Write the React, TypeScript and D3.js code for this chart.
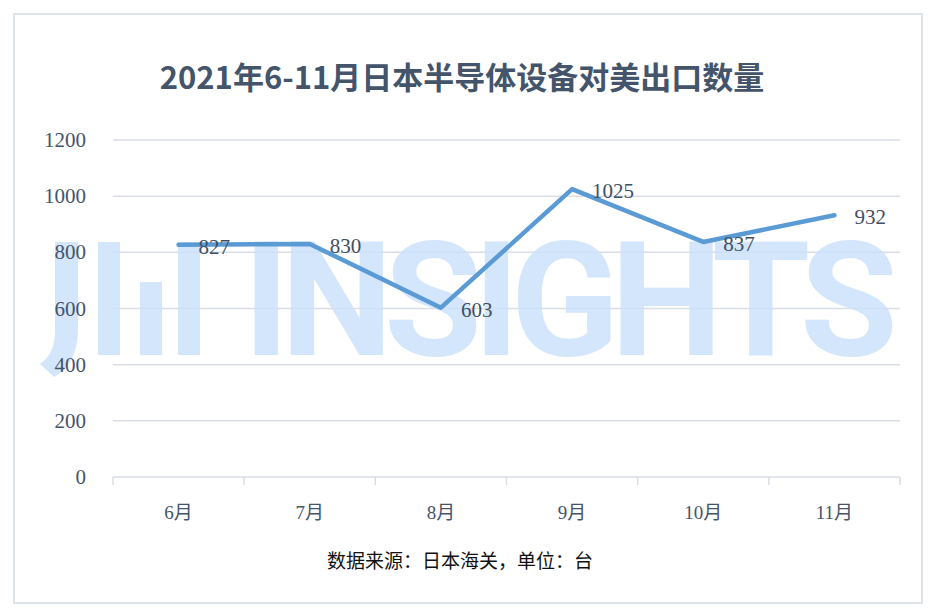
import React from 'react';
import * as d3 from 'd3';

const MONTHS = ['6月', '7月', '8月', '9月', '10月', '11月'];
const UNITS = [827, 830, 603, 1025, 837, 932];
const Y_TICKS = [0, 200, 400, 600, 800, 1000, 1200];

const TITLE = '2021年6-11月日本半导体设备对美出口数量';
const SOURCE = '数据来源：日本海关，单位：台';

const W = 938;
const H = 616;
const PLOT = { left: 113, right: 900, top: 140, bottom: 477 };

const TEXT_COLOR = '#44546a';
const GRID_COLOR = '#d9dee6';
const LINE_COLOR = '#5b9bd5';
const SERIF = '"Liberation Serif", "Noto Sans CJK SC", serif';

function Watermark() {
  // faint "JI.I INSIGHTS" logo behind the line
  const fill = '#c9e0fb';
  return (
    <g fill={fill} fillOpacity={0.8}>
      <path d="M55,242 H78 V328 C78,352 70,368 54,377 L40,364 C51,356 55,346 55,330 Z" />
      <rect x={98} y={242} width={22} height={113} />
      <rect x={140} y={282} width={22} height={73} />
      <rect x={178} y={242} width={22} height={113} />
      <text
        x={243}
        y={355}
        fontFamily="Roboto, Inter, sans-serif"
        fontWeight={700}
        fontSize={159}
        textLength={655}
        lengthAdjust="spacing"
      >
        INSIGHTS
      </text>
    </g>
  );
}

export default function App() {
  const x = d3.scaleBand<string>().domain(MONTHS).range([PLOT.left, PLOT.right]).padding(0);
  const y = d3.scaleLinear().domain([0, 1200]).range([PLOT.bottom, PLOT.top]);
  const cx = (m: string) => (x(m) ?? 0) + x.bandwidth() / 2;

  const line = d3
    .line<number>()
    .x((_, i) => cx(MONTHS[i]))
    .y((d) => y(d));

  const tickXs = [...MONTHS.map((m) => x(m) ?? 0), PLOT.right];

  return (
    <svg
      width={W}
      height={H}
      viewBox={`0 0 ${W} ${H}`}
      style={{ position: 'absolute', left: 0, top: 0, background: '#fff' }}
    >
      <rect x={14} y={14} width={908} height={589} fill="#fff" stroke="#dfe3ea" strokeWidth={2} />

      <text
        x={462}
        y={75}
        textAnchor="middle"
        dominantBaseline="central"
        fontFamily='"Noto Sans CJK SC", sans-serif'
        fontWeight={700}
        fontSize={31}
        fill={TEXT_COLOR}
      >
        {TITLE}
      </text>

      {/* Grid lines */}
      {Y_TICKS.filter((t) => t > 0).map((t) => (
        <line key={t} x1={PLOT.left} x2={PLOT.right} y1={y(t)} y2={y(t)} stroke={GRID_COLOR} strokeWidth={1.5} />
      ))}

      {/* X axis */}
      <line x1={PLOT.left} x2={PLOT.right} y1={y(0)} y2={y(0)} stroke={GRID_COLOR} strokeWidth={1.5} />
      {tickXs.map((tx, i) => (
        <line key={i} x1={tx} x2={tx} y1={y(0)} y2={y(0) + 8} stroke={GRID_COLOR} strokeWidth={1.5} />
      ))}

      <Watermark />

      {/* Y labels */}
      {Y_TICKS.map((t) => (
        <text
          key={t}
          x={86}
          y={y(t)}
          textAnchor="end"
          dominantBaseline="central"
          fontFamily={SERIF}
          fontSize={21}
          fill={TEXT_COLOR}
        >
          {t}
        </text>
      ))}

      {/* X labels */}
      {MONTHS.map((m) => (
        <text
          key={m}
          x={cx(m)}
          y={512}
          textAnchor="middle"
          dominantBaseline="central"
          fontFamily={SERIF}
          fontSize={19}
          fill={TEXT_COLOR}
        >
          {m}
        </text>
      ))}

      <path
        d={line(UNITS) ?? ''}
        fill="none"
        stroke={LINE_COLOR}
        strokeWidth={4.5}
        strokeLinecap="round"
        strokeLinejoin="round"
      />

      {/* Data labels */}
      {UNITS.map((v, i) => (
        <text
          key={i}
          x={cx(MONTHS[i]) + 20}
          y={y(v) + 2}
          dominantBaseline="central"
          fontFamily={SERIF}
          fontSize={21}
          fill="#404f63"
        >
          {v}
        </text>
      ))}

      <text
        x={460}
        y={559}
        textAnchor="middle"
        dominantBaseline="central"
        fontFamily='"Noto Sans CJK SC", sans-serif'
        fontWeight={400}
        fontSize={19}
        fill="#111"
      >
        {SOURCE}
      </text>
    </svg>
  );
}
